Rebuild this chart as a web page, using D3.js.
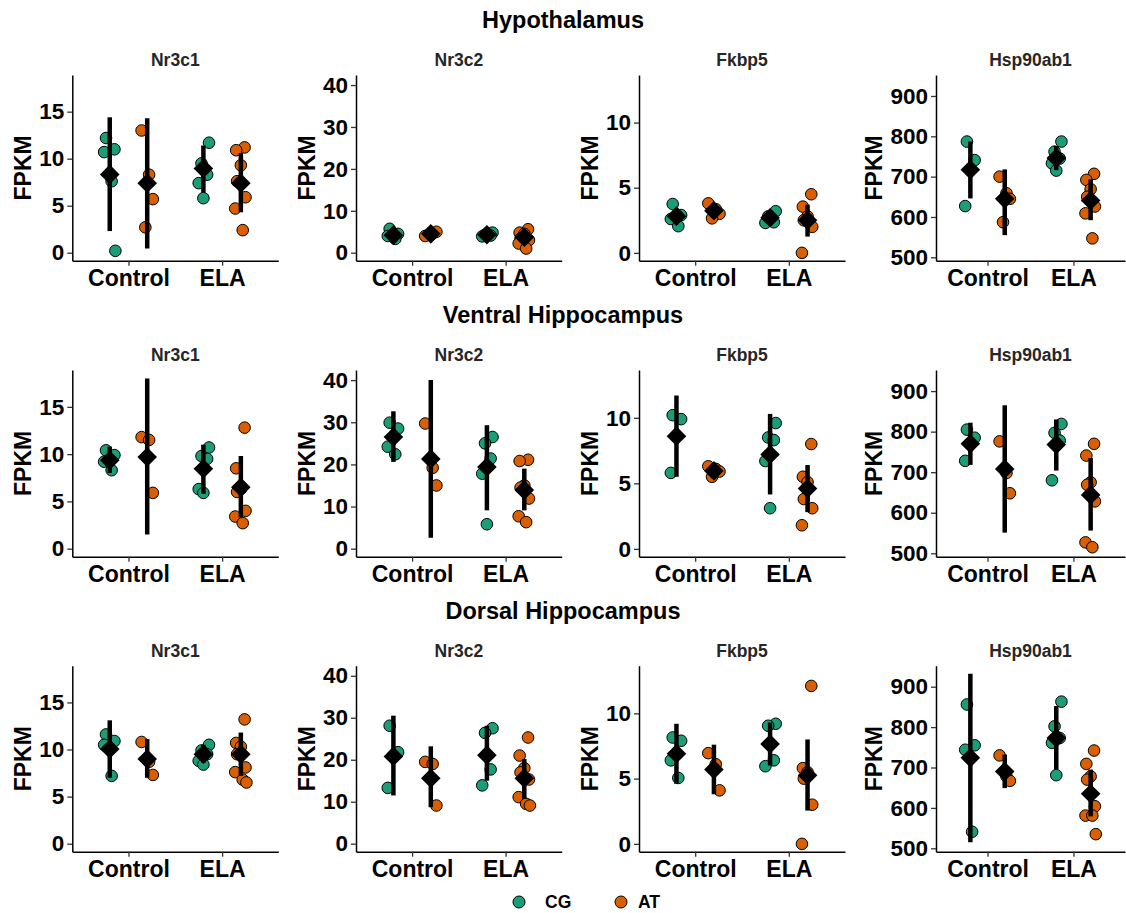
<!DOCTYPE html>
<html>
<head>
<meta charset="utf-8">
<script src="https://cdn.jsdelivr.net/npm/d3@7"></script>
<style>
  body { margin: 0; background: #fff; }
  text { font-family: "Liberation Sans", Arial, sans-serif; font-weight: bold; }
</style>
</head>
<body>
<div class="chart"></div>
<script>
var svgWidth = 1126;
var svgHeight = 913;

// categories
var regions = ["Hypothalamus", "Ventral Hippocampus", "Dorsal Hippocampus"];
var genes = ["Nr3c1", "Nr3c2", "Fkbp5", "Hsp90ab1"];
var conditions = ["Control", "ELA"];
var genotypes = ["CG", "AT"];
var geneTicks = [[0, 5, 10, 15], [0, 10, 20, 30, 40], [0, 5, 10], [500, 600, 700, 800, 900]];
var geneDomains = [[-0.85, 18.9], [-1.9, 42.4], [-0.6, 13.65], [491.6, 952]];

// FPKM values, groups in order: CG-Control, AT-Control, CG-ELA, AT-ELA
// Hypothalamus
var hypNr3c1 = [[12.2, 11.0, 10.7, 7.6, 0.2], [13.0, 8.3, 5.7, 2.7], [11.7, 9.5, 8.3, 7.4, 5.8], [11.2, 10.9, 9.3, 7.6, 5.9, 4.7, 2.4]];
var hypNr3c2 = [[5.7, 4.5, 4.0, 3.3], [4.0, 4.6, 5.0], [4.8, 4.3, 4.1, 3.9], [5.6, 4.8, 4.5, 3.4, 3.0, 2.2, 1.0]];
var hypFkbp5 = [[3.75, 2.9, 2.6, 2.05], [3.8, 3.35, 3.0, 2.65], [3.2, 2.8, 2.35, 2.3], [4.5, 3.55, 2.8, 2.5, 2.0, 0.0]];
var hypHsp90ab1 = [[787, 741, 627], [700, 659, 645, 587], [787, 762, 745, 733, 715], [707, 692, 669, 650, 626, 609, 547]];
// Ventral Hippocampus
var venNr3c1 = [[10.4, 9.9, 9.2, 8.3], [11.8, 11.5, 5.9], [10.7, 9.8, 9.5, 6.3, 5.9], [12.8, 8.5, 6.3, 6.0, 4.0, 3.4, 2.7]];
var venNr3c2 = [[29.9, 28.5, 24.2, 22.4], [29.7, 19.2, 15.0], [26.5, 25.0, 21.4, 17.8, 5.8], [21.1, 20.8, 15.0, 14.5, 11.9, 7.7, 6.3]];
var venFkbp5 = [[10.2, 9.9, 5.8], [6.3, 6.1, 5.9, 5.5], [9.6, 8.5, 8.3, 6.7, 3.1], [8.0, 5.5, 5.1, 3.8, 3.1, 1.8]];
var venHsp90ab1 = [[805, 785, 728], [776, 698, 648], [819, 797, 778, 680], [770, 741, 675, 669, 628, 527, 515]];
// Dorsal Hippocampus
var dorNr3c1 = [[11.6, 10.9, 10.5, 7.2], [10.8, 8.7, 7.3], [10.5, 9.9, 9.5, 8.8, 8.4], [13.2, 10.7, 10.3, 9.5, 8.1, 7.6, 6.8, 6.5]];
var dorNr3c2 = [[28.1, 21.8, 13.3], [19.5, 19.0, 9.1], [27.5, 26.4, 17.7, 13.9], [25.3, 21.0, 18.0, 17.0, 15.3, 11.1, 9.5, 9.1]];
var dorFkbp5 = [[8.15, 7.9, 6.4, 5.05], [6.95, 6.1, 4.1], [9.2, 9.05, 6.4, 5.95], [12.1, 5.8, 5.5, 5.0, 3.0, 0.0]];
var dorHsp90ab1 = [[856, 755, 744, 541], [730, 678, 667], [863, 802, 773, 761, 681], [742, 709, 678, 670, 604, 581, 581, 535]];

// mean and 95% CI [mean, low, high] per group
var hypNr3c1Sum = [[8.33, 2.3, 14.4], [7.4, 0.45, 14.3], [8.95, 6.4, 11.4], [7.4, 4.3, 10.6]];
var hypNr3c2Sum = [[4.2, 3.3, 5.2], [4.5, 4.0, 5.1], [4.3, 3.8, 4.9], [3.7, 2.0, 5.4]];
var hypFkbp5Sum = [[2.82, 2.2, 3.4], [3.23, 2.7, 3.8], [2.7, 2.3, 3.15], [2.5, 1.25, 3.7]];
var hypHsp90ab1Sum = [[717, 646, 787], [645, 555, 718], [746, 716, 776], [641, 592, 693]];
var venNr3c1Sum = [[9.35, 8.0, 10.8], [9.7, 1.5, 18.0], [8.45, 5.8, 11.0], [6.5, 3.3, 9.8]];
var venNr3c2Sum = [[26.5, 20.6, 32.6], [21.3, 2.6, 40.0], [19.4, 9.1, 29.3], [13.9, 9.1, 19.0]];
var venFkbp5Sum = [[8.6, 5.5, 11.7], [5.95, 5.4, 6.5], [7.2, 4.15, 10.3], [4.6, 2.8, 6.4]];
var venHsp90ab1Sum = [[770, 718, 822], [708, 551, 865], [768, 704, 830], [644, 556, 735]];
var dorNr3c1Sum = [[10.05, 7.0, 13.1], [9.0, 7.0, 11.1], [9.5, 8.6, 10.5], [9.5, 7.2, 11.8]];
var dorNr3c2Sum = [[20.8, 11.5, 30.5], [15.6, 8.7, 23.2], [21.1, 15.0, 28.1], [15.6, 10.7, 20.2]];
var dorFkbp5Sum = [[6.9, 4.6, 9.2], [5.7, 3.8, 7.6], [7.65, 6.0, 9.3], [5.25, 2.55, 8.0]];
var dorHsp90ab1Sum = [[724, 515, 932], [690, 649, 732], [773, 695, 852], [635, 579, 695]];

var pointsData = [
  [hypNr3c1, hypNr3c2, hypFkbp5, hypHsp90ab1],
  [venNr3c1, venNr3c2, venFkbp5, venHsp90ab1],
  [dorNr3c1, dorNr3c2, dorFkbp5, dorHsp90ab1]
];
var summaryData = [
  [hypNr3c1Sum, hypNr3c2Sum, hypFkbp5Sum, hypHsp90ab1Sum],
  [venNr3c1Sum, venNr3c2Sum, venFkbp5Sum, venHsp90ab1Sum],
  [dorNr3c1Sum, dorNr3c2Sum, dorFkbp5Sum, dorHsp90ab1Sum]
];

// layout
var colX = [[72.3, 278.3], [356, 561.7], [639, 845], [936, 1125]];
var rowY = [[75, 260.7], [370, 556.7], [665.7, 851.7]];
var colors = { CG: "#1b9e77", AT: "#d95f02" };
var groups = [["Control", "CG"], ["Control", "AT"], ["ELA", "CG"], ["ELA", "AT"]];
// fixed small horizontal spread so overlapping points stay visible
var jitter = [-0.04, 0.05, -0.06, 0.02, 0.06, -0.02, 0.04, -0.05, 0.0];

var svg = d3.select(".chart")
  .append("svg")
  .attr("width", svgWidth)
  .attr("height", svgHeight);

regions.forEach(function(region, r) {
  svg.append("text")
    .attr("x", 563)
    .attr("y", rowY[r][0] - 47)
    .attr("text-anchor", "middle")
    .attr("font-size", 23.5)
    .attr("fill", "#000")
    .text(region);

  genes.forEach(function(gene, c) {
    var x = d3.scalePoint().domain(conditions).range(colX[c]).padding(0.6);
    var y = d3.scaleLinear().domain(geneDomains[c]).range([rowY[r][1], rowY[r][0]]);
    var step = x.step();
    var dodge = { CG: -0.2 * step, AT: 0.2 * step };

    var g = svg.append("g");

    // y axis
    var yAxis = g.append("g")
      .attr("transform", `translate(${colX[c][0]},0)`)
      .call(d3.axisLeft(y).tickValues(geneTicks[c]).tickSize(5).tickSizeOuter(0).tickPadding(3));
    // x axis
    var xAxis = g.append("g")
      .attr("transform", `translate(0,${rowY[r][1]})`)
      .call(d3.axisBottom(x).tickSize(5).tickSizeOuter(0).tickPadding(4));

    [yAxis, xAxis].forEach(function(ax) {
      ax.select(".domain").attr("stroke", "#000").attr("stroke-width", 1.5);
      ax.selectAll(".tick line").attr("stroke", "#333").attr("stroke-width", 1.3);
      ax.selectAll(".tick text")
        .attr("fill", "#000")
        .attr("font-size", 22.5)
        .attr("font-family", "Liberation Sans, Arial, sans-serif")
        .attr("font-weight", "bold");
    });
    xAxis.selectAll(".tick text").attr("font-size", 23);

    // y axis title placed left of the widest tick label
    var maxW = d3.max(yAxis.selectAll(".tick text").nodes(), function(n) { return n.getBBox().width; });
    var fx = colX[c][0] - 8.3 - maxW - 16;
    g.append("text")
      .attr("transform", `translate(${fx},${(rowY[r][0] + rowY[r][1]) / 2}) rotate(-90)`)
      .attr("text-anchor", "middle")
      .attr("dy", "0.36em")
      .attr("font-size", 23)
      .attr("fill", "#000")
      .text("FPKM");

    // panel title
    g.append("text")
      .attr("x", (colX[c][0] + colX[c][1]) / 2)
      .attr("y", rowY[r][0] - 9)
      .attr("text-anchor", "middle")
      .attr("font-size", 17.5)
      .attr("fill", "#262626")
      .text(gene);

    // points
    var pts = [];
    pointsData[r][c].forEach(function(vals, gi) {
      vals.forEach(function(v, i) {
        pts.push({ cond: groups[gi][0], geno: groups[gi][1], value: v, j: jitter[(i + gi * 2) % jitter.length] });
      });
    });
    g.selectAll("circle.pt")
      .data(pts)
      .enter()
      .append("circle")
      .attr("class", "pt")
      .attr("cx", d => x(d.cond) + dodge[d.geno] + d.j * step)
      .attr("cy", d => y(d.value))
      .attr("r", 5.8)
      .attr("fill", d => colors[d.geno])
      .attr("stroke", "#000")
      .attr("stroke-width", 1);

    // mean + CI
    var sums = summaryData[r][c].map(function(s, gi) {
      return { cond: groups[gi][0], geno: groups[gi][1], mean: s[0], lo: s[1], hi: s[2] };
    });
    g.selectAll("line.ci")
      .data(sums)
      .enter()
      .append("line")
      .attr("class", "ci")
      .attr("x1", d => x(d.cond) + dodge[d.geno])
      .attr("x2", d => x(d.cond) + dodge[d.geno])
      .attr("y1", d => y(d.lo))
      .attr("y2", d => y(d.hi))
      .attr("stroke", "#000")
      .attr("stroke-width", 4.5);
    var h = 9.8;
    g.selectAll("path.mean")
      .data(sums)
      .enter()
      .append("path")
      .attr("class", "mean")
      .attr("transform", d => `translate(${x(d.cond) + dodge[d.geno]},${y(d.mean)})`)
      .attr("d", `M0,${-h}L${h},0L0,${h}L${-h},0Z`)
      .attr("fill", "#000");
  });
});

// legend
var legend = svg.append("g").attr("transform", "translate(0,902)");
var legendX = [{ geno: "CG", cx: 519, tx: 545 }, { geno: "AT", cx: 621, tx: 638 }];
legendX.forEach(function(l) {
  legend.append("circle")
    .attr("cx", l.cx).attr("cy", 0).attr("r", 6)
    .attr("fill", colors[l.geno]).attr("stroke", "#000").attr("stroke-width", 1);
  legend.append("text")
    .attr("x", l.tx).attr("y", 0).attr("dy", "0.36em")
    .attr("font-size", 17.5).attr("fill", "#000")
    .text(l.geno);
});
</script>
</body>
</html>
